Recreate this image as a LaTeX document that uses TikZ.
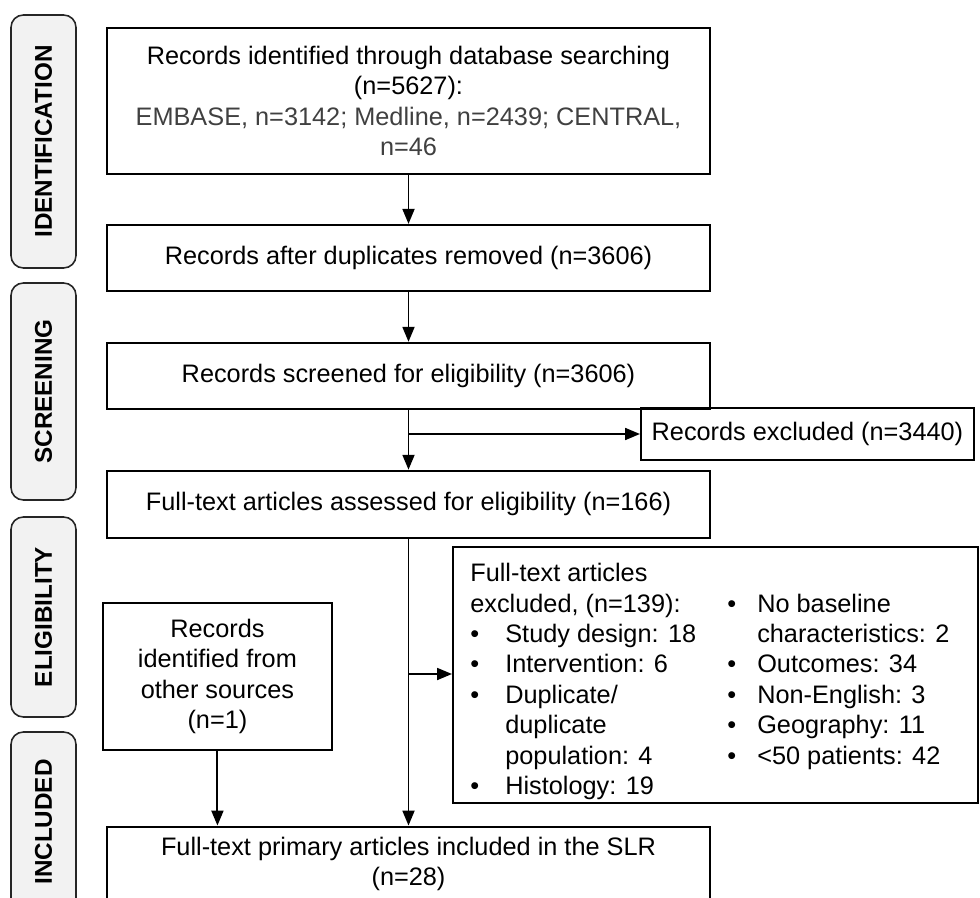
\documentclass[tikz,border=0pt]{standalone}
\usepackage{fontspec}
\setmainfont{Liberation Sans}
\usetikzlibrary{arrows.meta, positioning}
\definecolor{phasefill}{RGB}{242,242,242}
\definecolor{dbgray}{RGB}{64,64,64}

\begin{document}
\begin{tikzpicture}[x=0.02cm, y=-0.02cm,
  font=\fontsize{14.4}{17.3}\selectfont,
  box/.style={draw, line width=1.1pt, align=center, inner sep=0pt, minimum width=12.06cm},
  phase/.style={draw=black!85, line width=0.9pt, fill=phasefill, rounded corners=7pt, rotate=90,
    minimum height=1.3cm, font=\fontsize{13.8}{16}\selectfont\bfseries},
  arr/.style={-{Triangle[length=8.5pt, width=6.8pt]}, line width=1.1pt}]
\clip (0,0) rectangle (980,898);

% phase labels
\node[phase, minimum width=5.06cm] (pid) at (43.5,141.5) {IDENTIFICATION};
\node[phase, minimum width=4.34cm] (psc) at (43.5,391.5) {SCREENING};
\node[phase, minimum width=4.0cm] (pel) at (43.5,617) {ELIGIBILITY};
\node[phase, minimum width=3.6cm] (pin) at (43.5,822) {INCLUDED};

% main column
\node[box, minimum height=2.92cm, anchor=north] (rec) at (408.5,27)
  {Records identified through database searching\\(n=5627):\\
   \textcolor{dbgray}{EMBASE, n=3142; Medline, n=2439; CENTRAL,}\\
   \textcolor{dbgray}{n=46}};
\node[box, minimum height=1.32cm, below=0.98cm of rec] (dedup) {Records after duplicates removed (n=3606)};
\node[box, minimum height=1.32cm, below=1.0cm of dedup] (screen) {Records screened for eligibility (n=3606)};
\node[box, minimum height=1.34cm, below=1.2cm of screen] (full) {Full-text articles assessed for eligibility (n=166)};
\node[box, minimum height=1.5cm, below=5.74cm of full] (incl) {Full-text primary articles included in the SLR\\(n=28)};

% side boxes
\node[box, minimum width=6.66cm, minimum height=1.04cm, anchor=west] (excl) at (640,434) {Records excluded (n=3440)};
\node[box, minimum width=4.58cm, minimum height=2.94cm, anchor=north west] (other) at (102,602)
  {Records\\identified from\\other sources\\(n=1)};
\node[draw, line width=1.1pt, minimum width=10.5cm, minimum height=5.12cm, anchor=north west] (exbox) at (452,546) {};
\node[anchor=north west, inner sep=0pt] (exlist) at (470,560) {%
  \begin{tabular}{@{}p{0.7cm}@{}p{4.44cm}@{}p{0.6cm}@{}p{4.04cm}@{}}
  \multicolumn{2}{@{}l}{Full-text articles} & & \\
  \multicolumn{2}{@{}l}{excluded, (n=139):} & \textbullet & No baseline \\
  \textbullet & Study design: 18 & & characteristics: 2 \\
  \textbullet & Intervention: 6 & \textbullet & Outcomes: 34 \\
  \textbullet & Duplicate/ & \textbullet & Non-English: 3 \\
   & duplicate & \textbullet & Geography: 11 \\
   & population: 4 & \textbullet & <50 patients: 42 \\
  \textbullet & Histology: 19 & & \\
  \end{tabular}};

% arrows
\draw[arr] (rec) -- (dedup);
\draw[arr] (dedup) -- (screen);
\draw[arr] (screen) -- (full);
\coordinate (split1) at (screen.south |- excl.west);
\draw[arr] (split1) -- (excl);
\draw[arr] (full) -- (incl);
\coordinate (split2) at (full.south |- 0,674);
\draw[arr] (split2) -- (split2 -| exbox.west);
\draw[arr] (other) -- (other.south |- incl.north);
\end{tikzpicture}
\end{document}
